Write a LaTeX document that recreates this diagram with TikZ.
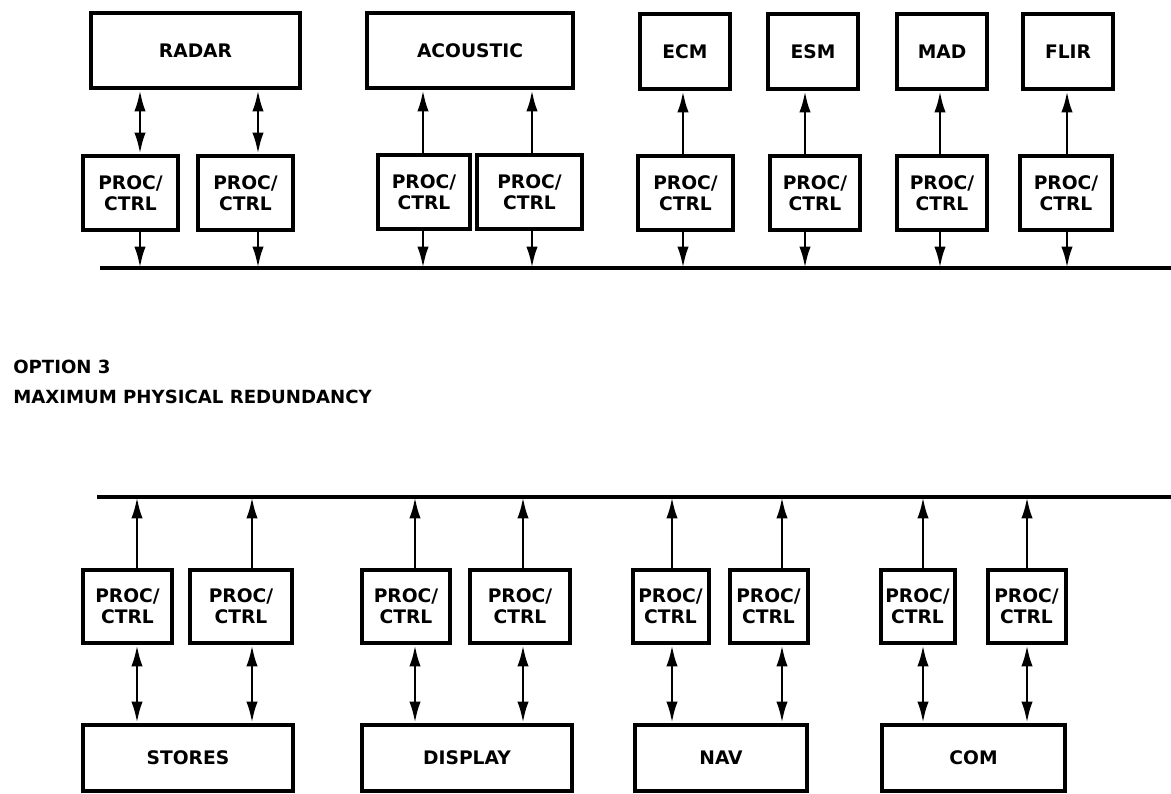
\documentclass[tikz,border=0pt]{standalone}
\usepackage{fontspec}
\newfontfamily\lbl{DejaVu Sans}
\usetikzlibrary{arrows.meta}
\begin{document}
\begin{tikzpicture}[x=0.75pt,y=-0.75pt,
  box/.style={draw, line width=3pt, inner sep=0pt, align=center,
    font=\lbl\bfseries\fontsize{14}{16}\selectfont},
  wh/.style 2 args={minimum width=#1*0.75pt, minimum height=#2*0.75pt},
  link/.style={line width=2.2pt},
  bus/.style={line width=3pt},
  caption/.style={anchor=base west, inner sep=0pt, font=\lbl\bfseries\fontsize{13.6}{15}\selectfont},
  >={Latex[length=16pt,width=8.5pt]}]
\useasboundingbox (0,0) rectangle (1171,793);

% ---------- top section ----------
\node[box, wh={209}{75}] (radar) at (195.5,50.5) {RADAR};
\node[box, wh={206}{75}] (acou)  at (470,50.5)   {ACOUSTIC};
\node[box, wh={90}{75}]  (ecm)   at (685,51.5)   {ECM};
\node[box, wh={90}{75}]  (esm)   at (813,51.5)   {ESM};
\node[box, wh={90}{75}]  (mad)   at (942,51.5)   {MAD};
\node[box, wh={90}{75}]  (flir)  at (1068,51.5)  {FLIR};

\node[box, wh={95}{74}]  (rp1) at (130.5,193) {PROC/\\CTRL};
\node[box, wh={95}{74}]  (rp2) at (245.5,193) {PROC/\\CTRL};
\node[box, wh={92}{74}]  (ap1) at (424,192)   {PROC/\\CTRL};
\node[box, wh={105}{74}] (ap2) at (529.5,192) {PROC/\\CTRL};
\node[box, wh={95}{74}]  (ep)  at (685.5,193) {PROC/\\CTRL};
\node[box, wh={90}{74}]  (sp)  at (815,193)   {PROC/\\CTRL};
\node[box, wh={90}{74}]  (mp)  at (942,193)   {PROC/\\CTRL};
\node[box, wh={92}{74}]  (fp)  at (1066,193)  {PROC/\\CTRL};

\coordinate (tbL) at (100,268);
\coordinate (tbR) at (1171,268);
\draw[bus] (tbL) -- (tbR);

\coordinate (t1) at (140,0);
\coordinate (t2) at (258,0);
\coordinate (t3) at (423,0);
\coordinate (t4) at (532,0);
\coordinate (t5) at (683,0);
\coordinate (t6) at (805,0);
\coordinate (t7) at (940,0);
\coordinate (t8) at (1067,0);

\draw[link,<->] (radar.south -| t1) -- (rp1.north -| t1);
\draw[link,<->] (radar.south -| t2) -- (rp2.north -| t2);
\draw[link,->] (ap1.north -| t3) -- (acou.south -| t3);
\draw[link,->] (ap2.north -| t4) -- (acou.south -| t4);
\draw[link,->] (ep.north -| t5) -- (ecm.south -| t5);
\draw[link,->] (sp.north -| t6) -- (esm.south -| t6);
\draw[link,->] (mp.north -| t7) -- (mad.south -| t7);
\draw[link,->] (fp.north -| t8) -- (flir.south -| t8);

\draw[link,->] (rp1.south -| t1) -- (tbL -| t1);
\draw[link,->] (rp2.south -| t2) -- (tbL -| t2);
\draw[link,->] (ap1.south -| t3) -- (tbL -| t3);
\draw[link,->] (ap2.south -| t4) -- (tbL -| t4);
\draw[link,->] (ep.south -| t5) -- (tbL -| t5);
\draw[link,->] (sp.south -| t6) -- (tbL -| t6);
\draw[link,->] (mp.south -| t7) -- (tbL -| t7);
\draw[link,->] (fp.south -| t8) -- (tbL -| t8);

% ---------- captions ----------
\node[caption] (opt) at (13,373) {OPTION 3};
\node[caption] (max) at (13,403) {MAXIMUM PHYSICAL REDUNDANCY};

% ---------- bottom section ----------
\coordinate (bbL) at (97,497);
\coordinate (bbR) at (1171,497);
\draw[bus] (bbL) -- (bbR);

\node[box, wh={89}{73}]  (sp1) at (127.5,606.5) {PROC/\\CTRL};
\node[box, wh={102}{73}] (sp2) at (241,606.5)   {PROC/\\CTRL};
\node[box, wh={88}{73}]  (dp1) at (406,606.5)   {PROC/\\CTRL};
\node[box, wh={100}{73}] (dp2) at (520,606.5)   {PROC/\\CTRL};
\node[box, wh={76}{73}]  (np1) at (670.5,606.5) {PROC/\\CTRL};
\node[box, wh={78}{73}]  (np2) at (768.5,606.5) {PROC/\\CTRL};
\node[box, wh={74}{73}]  (cp1) at (917.5,606.5) {PROC/\\CTRL};
\node[box, wh={78}{73}]  (cp2) at (1026.5,606.5) {PROC/\\CTRL};

\node[box, wh={210}{66}] (stores)  at (188,758)   {STORES};
\node[box, wh={210}{66}] (display) at (467,758)   {DISPLAY};
\node[box, wh={172}{66}] (nav)     at (721,758)   {NAV};
\node[box, wh={183}{66}] (com)     at (973.5,758) {COM};

\coordinate (b1) at (137,0);
\coordinate (b2) at (252,0);
\coordinate (b3) at (415,0);
\coordinate (b4) at (523,0);
\coordinate (b5) at (672,0);
\coordinate (b6) at (782,0);
\coordinate (b7) at (923,0);
\coordinate (b8) at (1027,0);

\draw[link,->] (sp1.north -| b1) -- (bbL -| b1);
\draw[link,->] (sp2.north -| b2) -- (bbL -| b2);
\draw[link,->] (dp1.north -| b3) -- (bbL -| b3);
\draw[link,->] (dp2.north -| b4) -- (bbL -| b4);
\draw[link,->] (np1.north -| b5) -- (bbL -| b5);
\draw[link,->] (np2.north -| b6) -- (bbL -| b6);
\draw[link,->] (cp1.north -| b7) -- (bbL -| b7);
\draw[link,->] (cp2.north -| b8) -- (bbL -| b8);

\draw[link,<->] (sp1.south -| b1) -- (stores.north -| b1);
\draw[link,<->] (sp2.south -| b2) -- (stores.north -| b2);
\draw[link,<->] (dp1.south -| b3) -- (display.north -| b3);
\draw[link,<->] (dp2.south -| b4) -- (display.north -| b4);
\draw[link,<->] (np1.south -| b5) -- (nav.north -| b5);
\draw[link,<->] (np2.south -| b6) -- (nav.north -| b6);
\draw[link,<->] (cp1.south -| b7) -- (com.north -| b7);
\draw[link,<->] (cp2.south -| b8) -- (com.north -| b8);
\end{tikzpicture}
\end{document}
